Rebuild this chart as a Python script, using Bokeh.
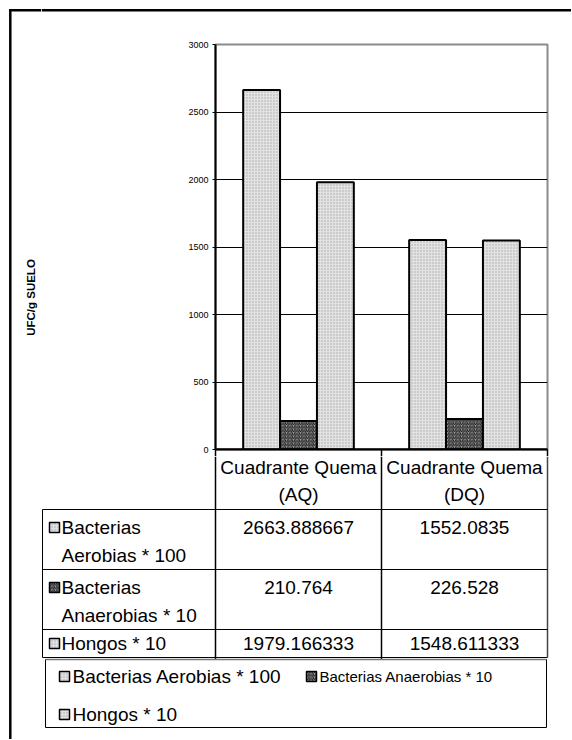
import math
from bokeh.plotting import figure
from bokeh.layouts import row, column
from bokeh.models import Range1d, FixedTicker, ColumnDataSource, Span, LinearAxis
from bokeh.embed import file_html
from bokeh.resources import INLINE
from bokeh.core.properties import value

# ---------------- data ----------------
categories = ["Cuadrante Quema (AQ)", "Cuadrante Quema (DQ)"]
category_lines = [["Cuadrante Quema", "(AQ)"], ["Cuadrante Quema", "(DQ)"]]
series_names = ["Bacterias Aerobias * 100", "Bacterias Anaerobias * 10", "Hongos * 10"]
row_header_lines = [["Bacterias", "Aerobias * 100"], ["Bacterias", "Anaerobias * 10"], ["Hongos * 10"]]
aerobias = [2663.888667, 1552.0835]
anaerobias = [210.764, 226.528]
hongos = [1979.166333, 1548.611333]
y_ticks = [0, 500, 1000, 1500, 2000, 2500, 3000]
y_label = "UFC/g SUELO"

FONT = value("Liberation Sans")
BIG = "19px"
SMALL = "15px"

# ---------------- styles ----------------
light = dict(fill_color="#e2e2e2", hatch_pattern=".", hatch_color="#a6a6a6",
             hatch_scale=3, hatch_weight=1, line_color="black")
dark = dict(fill_color="#a0a0a0", hatch_pattern="/", hatch_color="#1a1a1a",
            hatch_scale=3.5, hatch_weight=1, line_color="black")
styles = [light, dark, light]

# ---------------- geometry (page px, origin at page corner) ----------------
PAGE_W, PAGE_H = 571, 739
LEFT_W = 41
MAIN_W = PAGE_W - LEFT_W       # 530
STRIP_H = 12
ZERO_Y = 449                   # y of the value axis' zero line
TABLE_Y0 = 456
TOP_H = TABLE_Y0 - STRIP_H
TABLE_H = PAGE_H - TABLE_Y0
FRAME_LINE = 9.8               # outer frame line position


def no_align(f):
    try:
        f.frame_align = False
    except Exception:
        pass
    return f


def sheet(w, h):
    f = figure(width=w, height=h, x_range=Range1d(0, w), y_range=Range1d(h, 0),
               x_axis_location=None, y_axis_location=None, toolbar_location=None,
               output_backend="svg", min_border=0)
    f.min_border_left = f.min_border_right = f.min_border_top = f.min_border_bottom = 0
    f.outline_line_color = None
    f.grid.visible = False
    return no_align(f)


# left strip: outer frame (left + start of top) + y-axis title
left = sheet(LEFT_W, PAGE_H)
left.segment(x0=[FRAME_LINE], y0=[FRAME_LINE - 1.2], x1=[FRAME_LINE], y1=[PAGE_H],
             line_color="black", line_width=2.5)
left.segment(x0=[FRAME_LINE - 1.2], y0=[FRAME_LINE], x1=[LEFT_W], y1=[FRAME_LINE],
             line_color="black", line_width=2.5)
left.text(x=[30], y=[297], text=[y_label], angle=math.pi / 2,
          text_align="center", text_baseline="middle", text_font=FONT,
          text_font_size="11.5px", text_font_style="bold", text_color="black")

# top strip: rest of the outer frame top line
strip = sheet(MAIN_W, STRIP_H)
strip.segment(x0=[0], y0=[FRAME_LINE], x1=[MAIN_W], y1=[FRAME_LINE],
              line_color="black", line_width=2.5)

# ---------------- chart ----------------
n_cat = len(categories)
p = figure(width=MAIN_W, height=TOP_H,
           x_range=Range1d(0, n_cat), y_range=Range1d(0, 3000),
           x_axis_location=None, y_axis_location="left",
           toolbar_location=None, output_backend="svg",
           min_border_left=215 - LEFT_W, min_border_right=PAGE_W - 547,
           min_border_top=44 - STRIP_H, min_border_bottom=TABLE_Y0 - ZERO_Y)
no_align(p)
p.outline_line_color = "#8c8c8c"
p.outline_line_width = 2
yax = p.yaxis[0]
yax.ticker = FixedTicker(ticks=y_ticks)
yax.major_tick_out = 3
yax.major_tick_in = 0
yax.minor_tick_out = 0
yax.minor_tick_in = 0
yax.axis_line_color = "black"
yax.axis_line_width = 2
yax.major_tick_line_color = "black"
yax.major_label_text_font = "Liberation Sans"
yax.major_label_text_font_size = "9px"
yax.major_label_text_color = "black"
yax.major_label_standoff = 4
p.ygrid.ticker = FixedTicker(ticks=y_ticks[1:-1])
p.ygrid.grid_line_color = "black"
p.ygrid.grid_line_width = 1
p.xgrid.visible = False

# category axis: its ticks mark the column borders of the data table
cax = LinearAxis(ticker=FixedTicker(ticks=list(range(n_cat + 1))))
cax.major_tick_out = TABLE_Y0 - ZERO_Y
cax.major_tick_in = 0
cax.minor_tick_out = 0
cax.minor_tick_in = 0
cax.major_tick_line_color = "black"
cax.major_tick_line_width = 1.5
cax.axis_line_color = "black"
cax.axis_line_width = 2
cax.major_label_overrides = {i: "" for i in range(n_cat + 1)}
cax.major_label_text_font_size = "1px"
cax.major_label_standoff = 0
p.add_layout(cax, "below")

bw = 1 / 4.5
cat_center = [i + 0.5 for i in range(n_cat)]
for off, vals, st in zip([-bw, 0, bw], [aerobias, anaerobias, hongos], styles):
    src = ColumnDataSource(dict(x=[c + off for c in cat_center], top=vals))
    p.vbar(x="x", top="top", width=bw, source=src, line_width=2, **st)
p.add_layout(Span(location=0, dimension="width", line_color="black", line_width=2))

# ---------------- data table + legend ----------------
t = sheet(MAIN_W, TABLE_H)
X = lambda px: px - LEFT_W
Y = lambda py: py - TABLE_Y0

col_edges = [215, 381, 547]
table_left = 42
row_edges = [509, 569, 629, 657]

# vertical lines
t.segment(x0=[X(215)], y0=[0], x1=[X(215)], y1=[Y(660)], line_color="black", line_width=1.5)
t.segment(x0=[X(381)], y0=[0], x1=[X(381)], y1=[Y(660)], line_color="black", line_width=1.5)
t.segment(x0=[X(547)], y0=[0], x1=[X(547)], y1=[Y(657)], line_color="#444444", line_width=1.5)
# horizontal lines
t.segment(x0=[X(table_left)] * 4, y0=[Y(r) for r in row_edges],
          x1=[X(547)] * 4, y1=[Y(r) for r in row_edges], line_color="black", line_width=1)

# header (categories)
centers = [(col_edges[i] + col_edges[i + 1]) / 2 for i in range(n_cat)]
hx, hy, ht = [], [], []
for c, lines in zip(centers, category_lines):
    for k, s in enumerate(lines):
        hx.append(X(c)); hy.append(Y(467 + 27 * k)); ht.append(s)
t.text(x=hx, y=hy, text=ht, text_align="center", text_baseline="middle",
       text_font=FONT, text_font_size=BIG, text_color="black")

# values
row_text_y = [527, 587, 643]
vx, vy, vt = [], [], []
for series, yy in zip([aerobias, anaerobias, hongos], row_text_y):
    for c, v in zip(centers, series):
        vx.append(X(c)); vy.append(Y(yy)); vt.append(f"{v}")
t.text(x=vx, y=vy, text=vt, text_align="center", text_baseline="middle",
       text_font=FONT, text_font_size=BIG, text_color="black")

# row headers
rx, ry, rt = [], [], []
for lines, yy in zip(row_header_lines, row_text_y):
    for k, s in enumerate(lines):
        rx.append(X(61)); ry.append(Y(yy + 28 * k)); rt.append(s)
t.text(x=rx, y=ry, text=rt, text_align="left", text_baseline="middle",
       text_font=FONT, text_font_size=BIG, text_color="black")
for yy, st in zip(row_text_y, styles):
    t.rect(x=[X(54)], y=[Y(yy)], width=10, height=10, line_width=1.5, **st)

# table left edge
t.segment(x0=[X(table_left)], y0=[Y(509)], x1=[X(table_left)], y1=[Y(657)], line_color="black", line_width=1)

# legend box
lg_l, lg_r, lg_t, lg_b = 45, 546, 659, 727
t.quad(left=[X(lg_l)], right=[X(lg_r)], top=[Y(lg_t)], bottom=[Y(lg_b)],
       fill_color="white", line_color="black", line_width=1)
t.segment(x0=[X(lg_l)], y0=[Y(lg_t)], x1=[X(lg_r)], y1=[Y(lg_t)], line_color="#777777", line_width=1.5)
leg_pos = [(64, 676, BIG), (311, 676, SMALL), (64, 714, BIG)]
for (lx, ly, fs), name, st in zip(leg_pos, series_names, styles):
    t.rect(x=[X(lx)], y=[Y(ly)], width=10, height=10, line_width=1.5, **st)
    t.text(x=[X(lx + 8)], y=[Y(ly)], text=[name], text_align="left", text_baseline="middle",
           text_font=FONT, text_font_size=fs, text_color="black")

layout = row(left, column(strip, p, t))
open("out.html", "w").write(file_html(layout, INLINE))
